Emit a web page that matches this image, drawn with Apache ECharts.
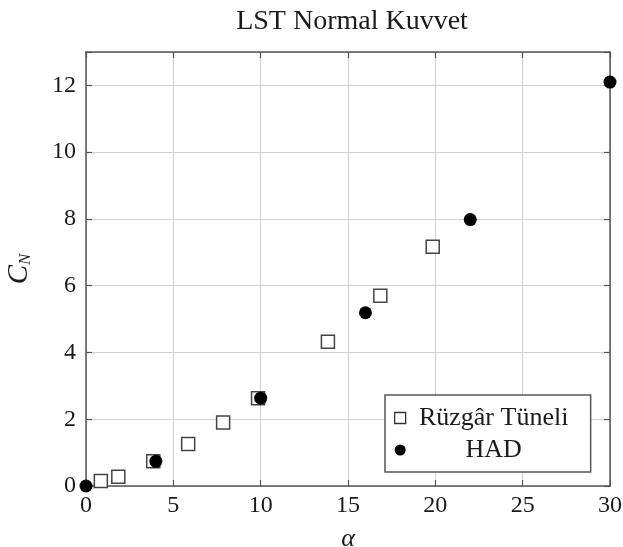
<!DOCTYPE html>
<html>
<head>
<meta charset="utf-8">
<script src="https://cdn.jsdelivr.net/npm/echarts@6/dist/echarts.min.js"></script>
<style>
html,body{margin:0;padding:0;background:#fff;}
#chart_panel{width:623px;height:547px;}
</style>
</head>
<body>
<div id="chart_panel"></div>
<script>
// Rüzgâr Tüneli (wind tunnel) points
var tunnelAlpha = [0.85, 1.85, 3.85, 5.85, 7.85, 9.85, 13.85, 16.85, 19.85];
var tunnelCN    = [0.15, 0.28, 0.74, 1.26, 1.9, 2.63, 4.32, 5.7, 7.17];
// HAD points
var hadAlpha = [0, 4, 10, 16, 22, 30];
var hadCN    = [0, 0.74, 2.63, 5.19, 7.98, 12.1];

var xTicks = [0, 5, 10, 15, 20, 25, 30];
var yTicks = [0, 2, 4, 6, 8, 10, 12];

var serif = '"Liberation Serif", "DejaVu Serif", serif';
var frameColor = '#555';
var textColor = '#1a1a1a';

function pairs(xs, ys){
	var out = [];
	for(var i=0; i<xs.length; i++){
		out.push([xs[i], ys[i]]);
	}
	return out;
}

var myChart = echarts.init(document.getElementById('chart_panel'));

function makeX(pos, show){
	return {
		type : 'value',
		position : pos,
		min : 0,
		max : 30,
		interval : 5,
		axisLine : {show:true, onZero:false, lineStyle:{color:frameColor, width:1.5}},
		axisTick : {show:true, inside:true, length:6, lineStyle:{color:frameColor, width:1.2}},
		axisLabel : {show:show, color:textColor, fontFamily:serif, fontSize:24, margin:8,
			formatter:function(v){ return xTicks.indexOf(v) >= 0 ? String(v) : ''; }},
		splitLine : {show:show, lineStyle:{color:'#d2d2d2', width:1}}
	};
}
function makeY(pos, show){
	return {
		type : 'value',
		position : pos,
		min : 0,
		max : 13,
		interval : 2,
		axisLine : {show:true, onZero:false, lineStyle:{color:frameColor, width:1.5}},
		axisTick : {show:true, inside:true, length:6, lineStyle:{color:frameColor, width:1.2}},
		axisLabel : {show:show, color:textColor, fontFamily:serif, fontSize:24, margin:10,
			formatter:function(v){ return yTicks.indexOf(v) >= 0 ? String(v) : ''; }},
		splitLine : {show:show, lineStyle:{color:'#d2d2d2', width:1}}
	};
}

var xMain = makeX('bottom', true);
xMain.name = 'α';
xMain.nameLocation = 'middle';
xMain.nameGap = 40;
xMain.nameTextStyle = {fontFamily:serif, fontSize:26, fontStyle:'italic', color:textColor};

var yMain = makeY('left', true);
yMain.name = '{c|C}{n|N}';
yMain.nameLocation = 'middle';
yMain.nameGap = 52;
yMain.nameTextStyle = {
	color:textColor,
	rich : {
		c : {fontFamily:serif, fontSize:29, fontStyle:'italic', color:textColor},
		n : {fontFamily:serif, fontSize:17, fontStyle:'italic', color:textColor, verticalAlign:'bottom', padding:[12,0,0,0]}
	}
};

var option = {
	backgroundColor : '#fff',
	animation : false,
	title : {
		text : 'LST Normal Kuvvet',
		left : 347,
		top : 3,
		textAlign : 'center',
		textStyle : {fontFamily:serif, fontSize:28, fontWeight:'normal', color:textColor}
	},
	grid : {left:86, right:13, top:52, bottom:61, containLabel:false, outerBoundsMode:'none'},
	legend : {
		orient : 'vertical',
		left : 385,
		top : 395,
		padding : [10, 14, 9, 9],
		itemGap : 6,
		itemWidth : 11,
		itemHeight : 11,
		backgroundColor : '#fff',
		borderColor : frameColor,
		borderWidth : 1.5,
		selectedMode : false,
		formatter : function(name){ return '{a|' + name + '}'; },
		textStyle : {
			color:textColor,
			rich : {a : {fontFamily:serif, fontSize:26, lineHeight:26, width:166, align:'center', color:textColor}}
		},
		data : [
			{name:'Rüzgâr Tüneli', icon:'rect', itemStyle:{color:'#fff', borderColor:'#333', borderWidth:1.3}},
			{name:'HAD', icon:'circle', itemStyle:{color:'#000'}}
		]
	},
	xAxis : [xMain, makeX('top', false)],
	yAxis : [yMain, makeY('right', false)],
	series : [
		{
			name : 'Rüzgâr Tüneli',
			type : 'scatter',
			symbol : 'rect',
			symbolSize : 13,
			clip : false,
			itemStyle : {color:'#fff', borderColor:'#444', borderWidth:1.5, opacity:1},
			data : pairs(tunnelAlpha, tunnelCN)
		},
		{
			name : 'HAD',
			type : 'scatter',
			symbol : 'circle',
			symbolSize : 13,
			clip : false,
			itemStyle : {color:'#000', opacity:1},
			data : pairs(hadAlpha, hadCN)
		}
	]
};
myChart.setOption(option, true);
window.onresize = myChart.resize;
</script>
</body>
</html>
